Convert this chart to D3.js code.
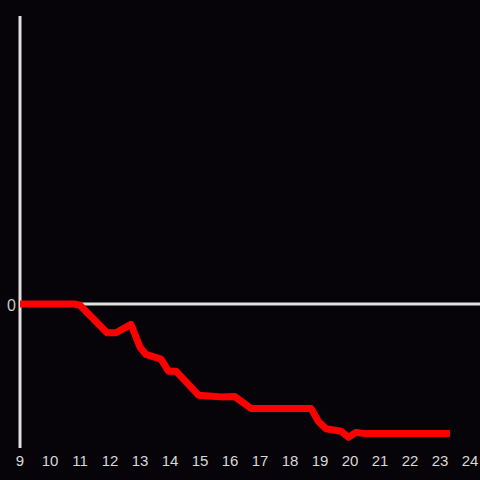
<!DOCTYPE html>
<html><head><meta charset="utf-8">
<script src="https://cdn.jsdelivr.net/npm/d3@7"></script>
<style>html,body{margin:0;padding:0;background:#060408;}svg{display:block;}</style>
</head><body>
<script>
const hours = [9.0,10.8,11.0,11.9,12.2,12.7,13.0,13.2,13.7,13.95,14.2,14.95,15.3,15.7,16.15,16.7,18.7,18.95,19.2,19.7,19.95,20.2,20.5,23.33];
const values = [0,0,-0.5,-12,-12,-8.5,-18,-21,-23,-28,-28,-38,-38.3,-38.7,-38.5,-43.5,-43.5,-49,-52,-53,-55.5,-53.5,-54,-54];
const xTicks = [9,10,11,12,13,14,15,16,17,18,19,20,21,22,23,24];
const yTicks = [0];

const W = 480, H = 480;
const svg = d3.select("body").append("svg").attr("width", W).attr("height", H)
  .style("background", "#060408");

const x = d3.scaleLinear().domain([9, 24]).range([20, 470]);
const y = d3.scaleLinear().domain([-60, 120]).range([448, 16]);

svg.append("line").attr("x1", x(9)).attr("x2", x(9)).attr("y1", y(120)).attr("y2", y(-60))
  .attr("stroke", "#e0e0e0").attr("stroke-width", 3);
svg.append("line").attr("x1", x(9)).attr("x2", W).attr("y1", y(0)).attr("y2", y(0))
  .attr("stroke", "#e0e0e0").attr("stroke-width", 3);

svg.append("g").selectAll("text").data(xTicks).join("text")
  .attr("x", d => x(d)).attr("y", 466)
  .attr("text-anchor", "middle")
  .attr("font-family", "Liberation Sans, Arial, sans-serif").attr("font-size", 15)
  .attr("fill", "#d8d8d8").text(d => d);

svg.append("g").selectAll("text").data(yTicks).join("text")
  .attr("x", 16).attr("y", y(0) + 6.5)
  .attr("text-anchor", "end")
  .attr("font-family", "Liberation Sans, Arial, sans-serif").attr("font-size", 16)
  .attr("fill", "#c8c8c8").text(d => d);

const data = hours.map((h, i) => ({h, v: values[i]}));
svg.append("path").datum(data)
  .attr("d", d3.line().x(d => x(d.h)).y(d => y(d.v)))
  .attr("fill", "none").attr("stroke", "#ff0000").attr("stroke-width", 7)
  .attr("stroke-linejoin", "round");
</script>
</body></html>
